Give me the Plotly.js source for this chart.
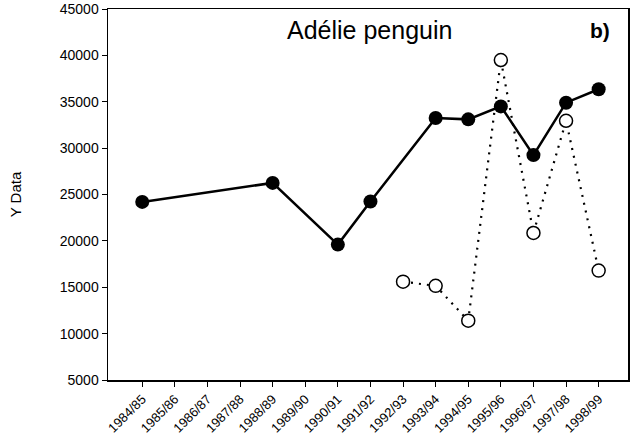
<!DOCTYPE html>
<html>
<head>
<meta charset="utf-8">
<script src="https://cdn.plot.ly/plotly-3.0.1.min.js"></script>
<style>html,body{margin:0;padding:0;background:#fff;}#chart{width:634px;height:437px;}</style>
</head>
<body>
<div id="chart"></div>
<script>
const seasons = ["1984/85","1985/86","1986/87","1987/88","1988/89","1989/90","1990/91","1991/92","1992/93","1993/94","1994/95","1995/96","1996/97","1997/98","1998/99"];
const solidSeasons = ["1984/85","1988/89","1990/91","1991/92","1993/94","1994/95","1995/96","1996/97","1997/98","1998/99"];
const solidValues = [24200, 26250, 19600, 24250, 33250, 33100, 34500, 29250, 34900, 36350];
const openSeasons = ["1992/93","1993/94","1994/95","1995/96","1996/97","1997/98","1998/99"];
const openValues = [15600, 15150, 11400, 39500, 20850, 32950, 16800];
const yTicks = [5000,10000,15000,20000,25000,30000,35000,40000,45000];

const traces = [
  {x: openSeasons, y: openValues, type: 'scatter', mode: 'lines+markers',
   line: {color: '#000', width: 2.2, dash: '2px,6px'},
   marker: {symbol: 'circle', size: 13, color: '#fff', line: {color: '#000', width: 1.5}},
   showlegend: false},
  {x: solidSeasons, y: solidValues, type: 'scatter', mode: 'lines+markers',
   line: {color: '#000', width: 2.5},
   marker: {symbol: 'circle', size: 14, color: '#000'},
   showlegend: false}
];

const layout = {
  width: 634, height: 437,
  margin: {l: 108, r: 6, t: 9, b: 57},
  paper_bgcolor: '#fff', plot_bgcolor: '#fff',
  font: {family: 'Liberation Sans, Arial, sans-serif', color: '#000', size: 14},
  xaxis: {type: 'category', categoryorder: 'array', categoryarray: seasons,
    range: [-1.05, 14.9], showgrid: false, zeroline: false,
    showline: true, linecolor: '#000', linewidth: 1.5, mirror: true,
    ticks: 'outside', ticklen: 5, tickcolor: '#000', tickwidth: 1,
    tickangle: -45, tickfont: {size: 13}},
  yaxis: {range: [5000, 45000], tickvals: yTicks, ticktext: yTicks.map(String),
    showgrid: false, zeroline: false,
    showline: true, linecolor: '#000', linewidth: 1.5, mirror: true,
    ticks: 'outside', ticklen: 5, tickcolor: '#000', tickwidth: 1,
    tickfont: {size: 14},
    title: {text: 'Y Data', font: {size: 15}, standoff: 34}},
  annotations: [
    {text: 'Adélie penguin', xref: 'paper', yref: 'paper', x: 0.502, y: 0.943,
     xanchor: 'center', yanchor: 'middle', showarrow: false, font: {size: 25}},
    {text: '<b>b)</b>', xref: 'paper', yref: 'paper', x: 0.946, y: 0.943,
     xanchor: 'center', yanchor: 'middle', showarrow: false, font: {size: 21}}
  ]
};

Plotly.newPlot('chart', traces, layout, {staticPlot: true, displayModeBar: false});
</script>
</body>
</html>
